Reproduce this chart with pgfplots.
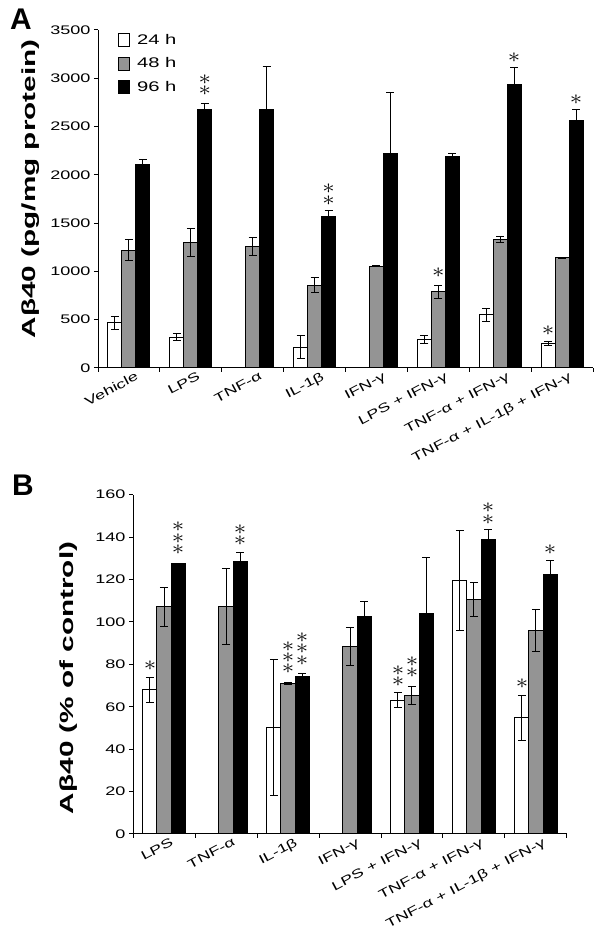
\documentclass[border=0pt]{standalone}
\usepackage{pgfplots}
\pgfplotsset{compat=1.18}
\usepackage{pgfplotstable}
\usepackage{fontspec}
\setmainfont{Liberation Sans}
\newfontfamily\wide[FakeStretch=1.45]{Liberation Sans}
\newfontfamily\widel[FakeStretch=1.57]{Liberation Sans}
\definecolor{bargray}{gray}{0.58}

% panel A: pg/mg protein
\pgfplotstableread{
x y e
0 470 67
1 320 40
3 215 120
5 298 43
6 551 65
7 253 25
}\Aa
\pgfplotstableread{
x y e
0 1220 110
1 1300 143
2 1260 92
3 858 80
4 1055 5
5 790 68
6 1327 31
7 1140 5
}\Ab
\pgfplotstableread{
x y e
0 2109 55
1 2672 62
2 2672 455
3 1567 62
4 2216 635
5 2188 28
6 2934 176
7 2561 111
}\Ac
% panel B: % of control
\pgfplotstableread{
x y e
0 68.1 5.9
2 50.3 32
4 63.1 3.5
5 119.6 23.5
6 54.9 10.6
}\Ba
\pgfplotstableread{
x y e
0 107.2 9.2
1 107.2 18
2 71.0 0.4
3 88.2 9
4 65.4 4.2
5 110.6 8
6 95.8 10
}\Bb
\pgfplotstableread{
x y e
0 127.5 0
1 128.3 4.4
2 74.2 1.4
3 102.3 7.4
4 104.0 26.4
5 138.9 4.7
6 122.5 6.6
}\Bc

\tikzset{st/.style={inner sep=0pt, font=\fontsize{22}{22}\selectfont, xscale=1.2}}
\pgfplotsset{
  bars/.style={
    scale only axis, anchor=south west,
    ybar, bar width=0.226,
    axis lines*=left, tick align=outside, tick pos=left,
    axis line style={line width=1bp},
    tick style={black, line width=1bp},
    major tick length=4bp,
    ymin=0,
    tick label style={font=\wide\fontsize{12.5}{12.5}\selectfont},
    /pgf/number format/assume math mode=true,
    /pgf/number format/1000 sep={},
    label style={font=\widel\bfseries\fontsize{19}{19}\selectfont},
    extra x tick style={major tick length=0pt},
    x tick label style={inner sep=0pt, xshift=6bp, yshift=-3bp, anchor=north east, rotate=28},
    error bars/error bar style={line width=1bp, black},
    error bars/error mark options={rotate=90, black, line width=1bp, mark size=4bp},
  },
  wbar/.style={fill=white, draw=black, line width=1bp, bar shift=-0.226},
  gbar/.style={fill=bargray, draw=black, line width=1bp, bar shift=0},
  kbar/.style={fill=black, draw=black, line width=1bp, bar shift=0.226},
}

\begin{document}
\begin{tikzpicture}
\begin{axis}[bars,
  at={(98bp,567bp)}, width=495bp, height=338bp,
  xmin=-0.5, xmax=7.5, ymax=3500, ytick={0,500,...,3500},
  xtick={-0.5,0.5,...,7.5}, xticklabels={,,,,,,,,,},
  extra x ticks={0,...,7},
  extra x tick labels={Vehicle, LPS, TNF-α, IL-1β, IFN-γ, LPS + IFN-γ, TNF-α + IFN-γ, TNF-α + IL-1β + IFN-γ},
  ylabel={Aβ40 (pg/mg protein)},
  ylabel style={at={(axis description cs:-0.127,0.53)}, anchor=base},
  legend style={at={(axis description cs:0.034,1.0)}, anchor=north west, draw=none, fill=none,
    font=\wide\fontsize{14}{14}\selectfont, row sep=8bp},
  legend cell align=left,
  legend image code/.code={\draw[#1, line width=1bp] (0bp,-6.5bp) rectangle (11bp,6.5bp); \path (16bp,0bp);},
]
\addplot[wbar, error bars/.cd, y dir=both, y explicit] table[x=x, y=y, y error=e] {\Aa};
\addlegendentry{24 h}
\addplot[gbar, error bars/.cd, y dir=both, y explicit] table[x=x, y=y, y error=e] {\Ab};
\addlegendentry{48 h}
\addplot[kbar, error bars/.cd, y dir=plus, y explicit] table[x=x, y=y, y error=e] {\Ac};
\addlegendentry{96 h}
\node[st] at (axis cs:1.226,2982) {$\ast$};
\node[st] at (axis cs:1.226,2871) {$\ast$};
\node[st] at (axis cs:3.226,1861) {$\ast$};
\node[st] at (axis cs:3.226,1732) {$\ast$};
\node[st] at (axis cs:5,987) {$\ast$};
\node[st] at (axis cs:6.226,3217) {$\ast$};
\node[st] at (axis cs:7.226,2782) {$\ast$};
\node[st] at (axis cs:6.774,386) {$\ast$};
\end{axis}

\begin{axis}[bars,
  at={(133bp,101bp)}, width=434bp, height=339.4bp,
  xmin=-0.5, xmax=6.5, ymax=160, ytick={0,20,...,160},
  xtick={-0.5,0.5,...,6.5}, xticklabels={,,,,,,,,},
  extra x ticks={0,...,6},
  extra x tick labels={LPS, TNF-α, IL-1β, IFN-γ, LPS + IFN-γ, TNF-α + IFN-γ, TNF-α + IL-1β + IFN-γ},
  ylabel={Aβ40 (\% of control)},
  ylabel style={at={(axis description cs:-0.138,0.46)}, anchor=base},
]
\addplot[wbar, error bars/.cd, y dir=both, y explicit] table[x=x, y=y, y error=e] {\Ba};
\addplot[gbar, error bars/.cd, y dir=both, y explicit] table[x=x, y=y, y error=e] {\Bb};
\addplot[kbar, error bars/.cd, y dir=plus, y explicit] table[x=x, y=y, y error=e] {\Bc};
\node[st] at (axis cs:-0.226,79.5) {$\ast$};
\node[st] at (axis cs:0.226,144.7) {$\ast$};
\node[st] at (axis cs:0.226,139.3) {$\ast$};
\node[st] at (axis cs:0.226,133.8) {$\ast$};
\node[st] at (axis cs:1.226,143.5) {$\ast$};
\node[st] at (axis cs:1.226,138.2) {$\ast$};
\node[st] at (axis cs:2,88.4) {$\ast$};
\node[st] at (axis cs:2,83.2) {$\ast$};
\node[st] at (axis cs:2,78.0) {$\ast$};
\node[st] at (axis cs:2.226,92.6) {$\ast$};
\node[st] at (axis cs:2.226,87.2) {$\ast$};
\node[st] at (axis cs:2.226,81.9) {$\ast$};
\node[st] at (axis cs:3.774,76.9) {$\ast$};
\node[st] at (axis cs:3.774,71.7) {$\ast$};
\node[st] at (axis cs:4,81.1) {$\ast$};
\node[st] at (axis cs:4,75.9) {$\ast$};
\node[st] at (axis cs:5.226,153.9) {$\ast$};
\node[st] at (axis cs:5.226,148.3) {$\ast$};
\node[st] at (axis cs:5.774,70.9) {$\ast$};
\node[st] at (axis cs:6.226,134.2) {$\ast$};
\end{axis}

\node[anchor=base west, inner sep=0pt, font=\bfseries\fontsize{30}{30}\selectfont] at (10bp,905bp) {A};
\node[anchor=base west, inner sep=0pt, font=\bfseries\fontsize{30}{30}\selectfont] at (12bp,439bp) {B};
\pgfresetboundingbox
\useasboundingbox (0,0) rectangle (600bp,935bp);
\end{tikzpicture}
\end{document}
